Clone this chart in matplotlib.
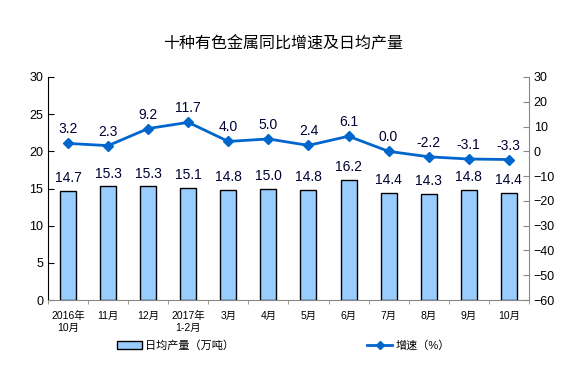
import numpy as np
import matplotlib
matplotlib.use("Agg")
import matplotlib.pyplot as plt
from matplotlib.patches import Patch
from matplotlib.lines import Line2D

plt.rcParams['font.family'] = ['Liberation Sans', 'Noto Sans CJK SC', 'DejaVu Sans']

months = ["2016年\n10月", "11月", "12月", "2017年\n1-2月", "3月", "4月",
          "5月", "6月", "7月", "8月", "9月", "10月"]
output = [14.7, 15.3, 15.3, 15.1, 14.8, 15.0, 14.8, 16.2, 14.4, 14.3, 14.8, 14.4]
growth = [3.2, 2.3, 9.2, 11.7, 4.0, 5.0, 2.4, 6.1, 0.0, -2.2, -3.1, -3.3]

bar_color = "#99CCFF"
line_color = "#0066CC"

fig = plt.figure(figsize=(5.67, 3.78), dpi=100)
ax = fig.add_axes([0.0847, 0.2063, 0.848, 0.590])
x = np.arange(len(months))

ax.bar(x, output, width=0.4, color=bar_color, edgecolor="black", lw=1.0, zorder=2)
for xi, v in zip(x, output):
    ax.annotate(f"{v:.1f}", (xi, v), xytext=(0, 4), textcoords="offset points",
                ha="center", va="bottom", fontsize=10, color="#000033")

ax.set_xlim(-0.5, len(months) - 0.5)
ax.set_ylim(0, 30)
ax.set_yticks(range(0, 31, 5))
ax.set_xticks(x)
ax.set_xticklabels(months, fontsize=7.5)
ax.set_xticks(np.arange(-0.5, len(months), 1), minor=True)
ax.tick_params(axis="x", which="major", length=0, pad=8)
ax.tick_params(axis="x", which="minor", length=3, direction="out", color="#888888")
ax.tick_params(axis="y", direction="in", length=4, labelsize=9)
ax.spines['top'].set_visible(False)
ax.spines['right'].set_visible(False)
ax.spines['bottom'].set_color("#888888")

ax2 = ax.twinx()
ax2.plot(x, growth, color=line_color, lw=2, marker="D", ms=5, zorder=3)
for xi, v in zip(x, growth):
    ax2.annotate(f"{v:.1f}", (xi, v), xytext=(0, 5), textcoords="offset points",
                 ha="center", va="bottom", fontsize=10, color="#000033")
ax2.set_ylim(-60, 30)
ax2.set_yticks(range(-60, 31, 10))
ax2.tick_params(axis="y", direction="in", length=4, labelsize=9, color="#888888")
for s in ['top', 'left', 'bottom']:
    ax2.spines[s].set_visible(False)
ax2.spines['right'].set_color("#888888")

fig.text(0.5, 0.885, "十种有色金属同比增速及日均产量", ha="center", va="center",
         fontsize=11.5, family=['Noto Sans CJK SC'])

handles = [Patch(facecolor=bar_color, edgecolor="black", lw=1.0),
           Line2D([0], [0], color=line_color, lw=2, marker="D", ms=4)]
fig.legend(handles, ["日均产量（万吨）", "增速（%）"], loc="center",
           bbox_to_anchor=(0.5, 0.085), ncol=2, frameon=False, fontsize=8,
           columnspacing=12, handlelength=2.2, handletextpad=0.3)

fig.savefig("out.png", dpi=100)
